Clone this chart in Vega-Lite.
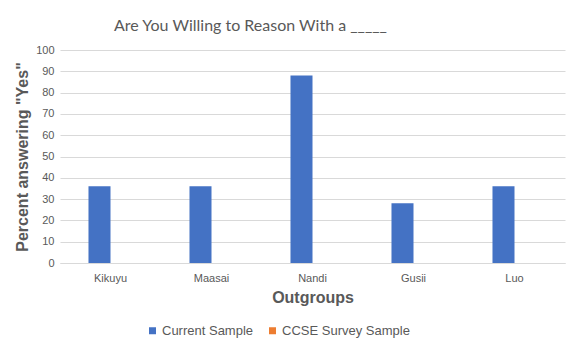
{
  "$schema": "https://vega.github.io/schema/vega-lite/v6.json",
  "width": 505,
  "height": 213,
  "autosize": {"type": "none"},
  "padding": {"left": 60, "top": 50, "right": 8, "bottom": 91},
  "background": "white",
  "title": {
    "text": "Are You Willing to Reason With a _____",
    "font": "Lato",
    "fontSize": 16,
    "fontWeight": "normal",
    "color": "#595959",
    "anchor": "middle",
    "dx": -62,
    "offset": 10
  },
  "data": {
    "values": [
      {"group": "Kikuyu", "series": "Current Sample", "value": 36},
      {"group": "Kikuyu", "series": "CCSE Survey Sample", "value": 0},
      {"group": "Maasai", "series": "Current Sample", "value": 36},
      {"group": "Maasai", "series": "CCSE Survey Sample", "value": 0},
      {"group": "Nandi", "series": "Current Sample", "value": 88},
      {"group": "Nandi", "series": "CCSE Survey Sample", "value": 0},
      {"group": "Gusii", "series": "Current Sample", "value": 28},
      {"group": "Gusii", "series": "CCSE Survey Sample", "value": 0},
      {"group": "Luo", "series": "Current Sample", "value": 36},
      {"group": "Luo", "series": "CCSE Survey Sample", "value": 0}
    ]
  },
  "mark": {"type": "bar"},
  "encoding": {
    "x": {
      "field": "group",
      "type": "nominal",
      "sort": ["Kikuyu", "Maasai", "Nandi", "Gusii", "Luo"],
      "scale": {"paddingInner": 0.564, "paddingOuter": 0.282},
      "axis": {
        "title": "Outgroups",
        "titleFont": "Liberation Sans",
        "titleFontSize": 16,
        "titleFontWeight": "bold",
        "titleColor": "#595959",
        "titlePadding": 6,
        "labelAngle": 0,
        "labelFont": "Liberation Sans",
        "labelFontSize": 11,
        "labelColor": "#595959",
        "labelPadding": 9,
        "ticks": false,
        "domain": true,
        "domainColor": "#D9D9D9",
        "grid": false
      }
    },
    "xOffset": {
      "field": "series",
      "type": "nominal",
      "sort": ["Current Sample", "CCSE Survey Sample"],
      "scale": {"paddingInner": 0, "paddingOuter": 0}
    },
    "y": {
      "field": "value",
      "type": "quantitative",
      "scale": {"domain": [0, 100]},
      "axis": {
        "title": "Percent answering \"Yes\"",
        "titleFont": "Liberation Sans",
        "titleFontSize": 16,
        "titleFontWeight": "bold",
        "titleColor": "#595959",
        "titlePadding": 5,
        "values": [0, 10, 20, 30, 40, 50, 60, 70, 80, 90, 100],
        "labelFont": "Liberation Sans",
        "labelFontSize": 11,
        "labelColor": "#595959",
        "labelPadding": 6,
        "ticks": false,
        "domain": false,
        "grid": true,
        "gridColor": "#D9D9D9"
      }
    },
    "color": {
      "field": "series",
      "type": "nominal",
      "sort": ["Current Sample", "CCSE Survey Sample"],
      "scale": {"domain": ["Current Sample", "CCSE Survey Sample"], "range": ["#4472C4", "#ED7D31"]},
      "legend": {
        "title": null,
        "orient": "none",
        "direction": "horizontal",
        "legendX": 86,
        "legendY": 274,
        "symbolType": "square",
        "symbolSize": 49,
        "symbolOpacity": 1,
        "symbolStrokeWidth": 0,
        "labelFont": "Liberation Sans",
        "labelFontSize": 13,
        "labelColor": "#595959",
        "labelOffset": 3,
        "columnPadding": 12
      }
    }
  },
  "config": {
    "view": {"stroke": null}
  }
}
